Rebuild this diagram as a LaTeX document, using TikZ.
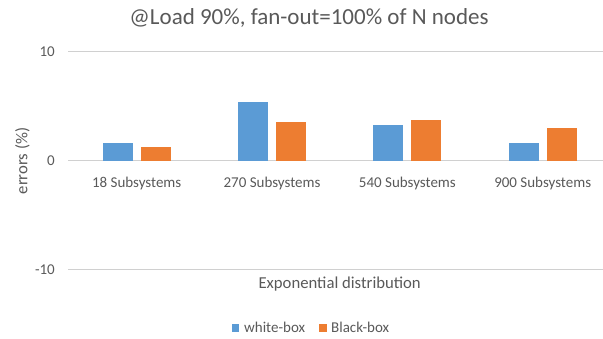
\documentclass[tikz,border=0pt]{standalone}
\usepackage{fontspec}
\setmainfont{Carlito}
\definecolor{txtgray}{HTML}{595959}
\definecolor{gridgray}{HTML}{D0D0D0}
\definecolor{wbblue}{HTML}{5B9BD5}
\definecolor{bborange}{HTML}{ED7D31}
\begin{document}
\begin{tikzpicture}[x=1pt,y=-1pt,
  txt/.style={text=txtgray, inner sep=0pt},
  ticklbl/.style={txt, font=\fontsize{15}{18}\selectfont},
  catlbl/.style={txt, font=\fontsize{15}{18}\selectfont, anchor=base},
  axtitle/.style={txt, font=\fontsize{16.7}{20}\selectfont},
  charttitle/.style={txt, font=\fontsize{23}{27}\selectfont, anchor=base},
  gridline/.style={draw=gridgray, line width=1.5pt},
  whitebar/.style={fill=wbblue},
  blackbar/.style={fill=bborange}]
\useasboundingbox (0,0) rectangle (603,339);

% value axis: 0 at y=160.6, 10.9 units of length per percent
\foreach \v/\n in {10/ten,0/zero,-10/mten}{
  \pgfmathsetmacro\gy{160.6-10.9*\v}
  \coordinate (g\n) at (68.3,\gy);
  \coordinate (e\n) at (603,\gy);
  \draw[gridline] (g\n) -- (e\n);
  \node[ticklbl, anchor=east] (t\n) at (55,\gy) {\v};
}

% bars, one group per category
\foreach \i/\b/\o/\lab in {0/1.64/1.28/18, 1/5.38/3.51/270, 2/3.24/3.72/540, 3/1.59/2.96/900}{
  \pgfmathsetmacro\c{69+135.35*(\i+0.5)}
  \pgfmathsetmacro\bt{160.6-10.9*\b}
  \pgfmathsetmacro\ot{160.6-10.9*\o}
  \fill[whitebar] (\c-34,160.6) rectangle (\c-4,\bt);
  \fill[blackbar] (\c+4,160.6) rectangle (\c+34,\ot);
  \node[catlbl] (cat\i) at (\c,187.5) {\lab\ Subsystems};
}

% titles
\node[charttitle] (title) at (309,25) {@Load 90\%, fan-out=100\% of N nodes};
\node[axtitle, anchor=base] (xtitle) at (339.7,289) {Exponential distribution};
\node[axtitle, rotate=90] (ytitle) at (22.5,161) {errors (\%)};

% legend
\fill[wbblue] (231.7,324) rectangle (239.3,331.6);
\node[ticklbl, anchor=base west] (legw) at (244,333) {white-box};
\fill[bborange] (319.4,324) rectangle (327,331.6);
\node[ticklbl, anchor=base west] (legb) at (331,333) {Black-box};
\end{tikzpicture}
\end{document}
